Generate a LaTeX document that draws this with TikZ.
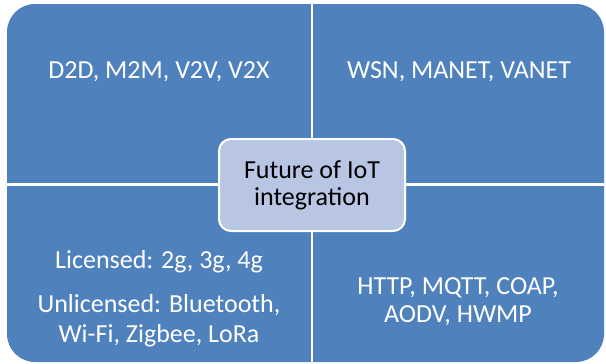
\documentclass[tikz,border=0pt]{standalone}
\usepackage{fontspec}
\setmainfont{Carlito}
\definecolor{matrixblue}{RGB}{79,129,189}
\definecolor{centreblue}{RGB}{184,198,227}
\tikzset{
  quadtext/.style={text=white,anchor=base,inner sep=0pt,font=\fontsize{26}{30}\selectfont},
  divider/.style={white,line width=2.5pt},
}

\begin{document}
\begin{tikzpicture}[x=1pt,y=-1pt]
\useasboundingbox (0,0) rectangle (606,364);
\fill[matrixblue,rounded corners=28pt] (7,4) rectangle (604,362);
\draw[divider] (312,4) -- (312,362);
\draw[divider] (7,184.5) -- (604,184.5);
% quadrant texts
\node[quadtext] (d2d) at (159,78) {D2D, M2M, V2V, V2X};
\node[quadtext] (wsn) at (459,78) {WSN, MANET, VANET};
\node[quadtext] (lic) at (159,268) {Licensed: 2g, 3g, 4g};
\node[quadtext] (unlic) at (159,312) {Unlicensed: Bluetooth,};
\node[quadtext] (wifi) at (159,342) {Wi-Fi, Zigbee, LoRa};
\node[quadtext] (http) at (458,294) {HTTP, MQTT, COAP,};
\node[quadtext] (aodv) at (458,322) {AODV, HWMP};
% centre box
\node [fill=centreblue,draw=white,line width=2pt,rounded corners=12pt,
  minimum width=186pt,minimum height=92pt,align=center,
  font=\fontsize{26}{27}\selectfont] (future) at (312,185)
{Future of IoT\\integration};
\end{tikzpicture}
\end{document}
